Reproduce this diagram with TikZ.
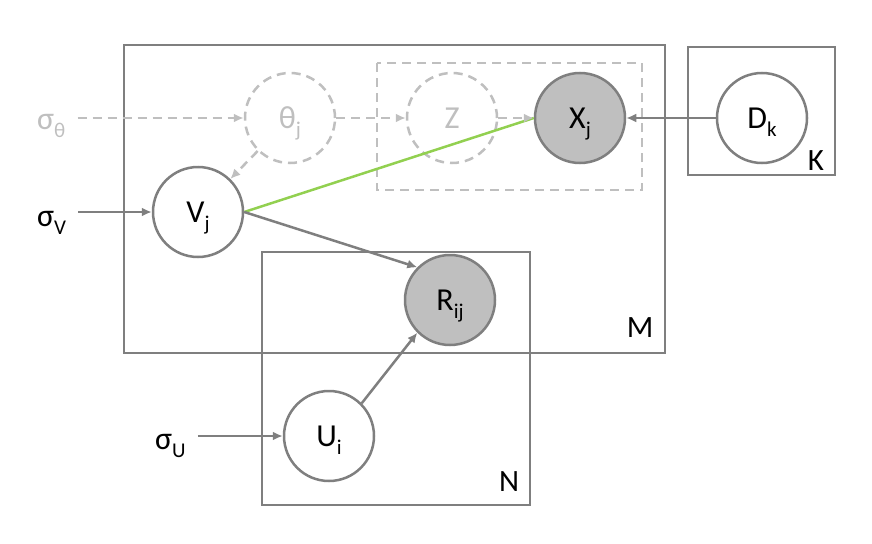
\documentclass[tikz,border=0pt]{standalone}
\usepackage{fontspec}
\setmainfont{Carlito}
\usetikzlibrary{arrows.meta,positioning}
\definecolor{plategray}{RGB}{127,127,127}
\definecolor{fadegray}{RGB}{191,191,191}
\definecolor{obsgray}{RGB}{191,191,191}
\definecolor{linkgreen}{RGB}{146,208,80}
\newcommand{\lowsub}[1]{\smash{\raisebox{-8pt}{\fontsize{21}{24}\selectfont #1}}}

\begin{document}
\begin{tikzpicture}[x=1pt,y=-1pt,
    varnode/.style={circle, draw=plategray, line width=2.5pt, minimum size=90pt, inner sep=0pt, fill=white, font=\fontsize{32}{38}\selectfont},
    obsnode/.style={varnode, fill=obsgray},
    hidnode/.style={varnode, draw=fadegray, dash pattern=on 9pt off 6pt, text=fadegray},
    platebox/.style={draw=plategray, line width=2.5pt},
    hidbox/.style={draw=fadegray, line width=2.5pt, dash pattern=on 9pt off 6pt},
    platelabel/.style={font=\fontsize{31}{36}\selectfont, inner sep=0pt},
    hyperlabel/.style={anchor=base west, inner sep=0pt, font=\fontsize{32}{38}\selectfont},
    link/.style={draw=plategray, line width=2.5pt, -{Latex[length=10pt,width=9pt]}},
    hidlink/.style={link, draw=fadegray, dash pattern=on 9pt off 6pt},
    greenlink/.style={draw=linkgreen, line width=2.5pt}]
    \useasboundingbox (0,0) rectangle (872,543);

    % plates
    \draw[platebox] (124,45) rectangle (665,353);
    \draw[platebox] (688,47) rectangle (835,175);
    \draw[platebox] (262,252) rectangle (530,505);
    \draw[hidbox] (377,63) rectangle (642,190);
    \node[platelabel] (labm) at (640,328) {M};
    \node[platelabel] (labk) at (816,161) {K};
    \node[platelabel] (labn) at (509,482) {N};

    % variables
    \node[hidnode] (theta) at (290,118) {θ\lowsub{j}};
    \node[hidnode] (z) at (452,118) {Z};
    \node[obsnode] (xj) at (580,118) {X\lowsub{j}};
    \node[varnode] (dk) at (762,118) {D\lowsub{k}};
    \node[varnode] (vj) at (198,212) {V\lowsub{j}};
    \node[obsnode] (rij) at (450,300) {R\lowsub{ij}};
    \node[varnode] (ui) at (329,436) {U\lowsub{i}};

    % hyperparameters
    \node[hyperlabel, text=fadegray] (sigt) at (37,129) {σ\lowsub{θ}};
    \node[hyperlabel] (sigv) at (37,226) {σ\lowsub{V}};
    \node[hyperlabel] (sigu) at (155,449) {σ\lowsub{U}};

    % edges
    \draw[hidlink] (sigt.east |- theta) ++(12,0) -- (theta);
    \draw[hidlink] (theta) -- (z);
    \draw[hidlink] (theta) -- (vj);
    \draw[greenlink] (vj.east) -- (xj.west);
    \draw[hidlink] (z) -- (xj);
    \draw[link] (dk) -- (xj);
    \draw[link] (sigv.east |- vj) ++(12,0) -- (vj);
    \draw[link] (vj.east) -- (rij.north west);
    \draw[link] (sigu.east |- ui) ++(12,0) -- (ui);
    \draw[link] (ui.north east) -- (rij.south west);
\end{tikzpicture}
\end{document}
